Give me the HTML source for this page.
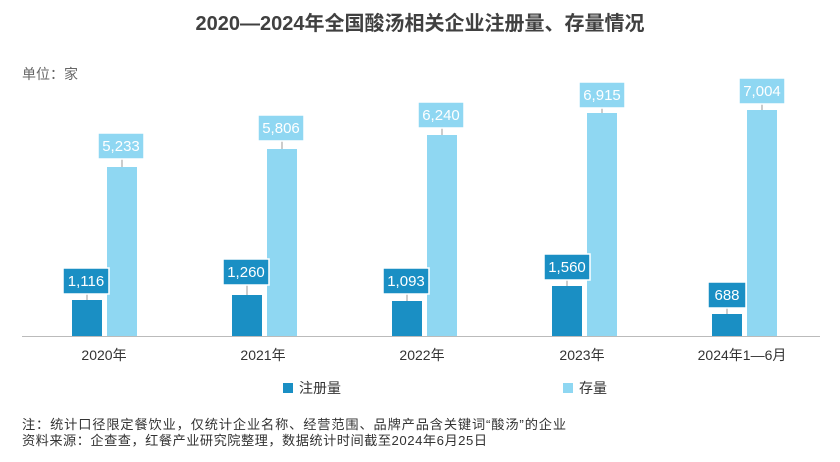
<!DOCTYPE html>
<html><head><meta charset="utf-8"><style>
body{margin:0;background:#fff;}
svg text{font-family:"Liberation Sans","Noto Sans CJK SC",sans-serif;}
</style></head><body>
<svg width="840" height="457" xmlns="http://www.w3.org/2000/svg">
<rect width="840" height="457" fill="#fff"/>
<text x="420" y="30" text-anchor="middle" font-size="20" font-weight="bold" fill="#404040">2020—2024年全国酸汤相关企业注册量、存量情况</text>
<text x="22" y="79" font-size="14" fill="#666">单位：家</text>
<line x1="22" y1="336.5" x2="820" y2="336.5" stroke="#bbb" stroke-width="1"/>
<g fill="#1a8fc4">
<rect x="72" y="300" width="30" height="36"/>
<rect x="232" y="295" width="30" height="41"/>
<rect x="392" y="301" width="30" height="35"/>
<rect x="552" y="286" width="30" height="50"/>
<rect x="712" y="314" width="30" height="22"/>
</g>
<g fill="#8fd7f2">
<rect x="107" y="167" width="30" height="169"/>
<rect x="267" y="149" width="30" height="187"/>
<rect x="427" y="135" width="30" height="201"/>
<rect x="587" y="113" width="30" height="223"/>
<rect x="747" y="110" width="30" height="226"/>
</g>
<g stroke="#999" stroke-width="1">
<line x1="87" y1="294" x2="87" y2="300"/><line x1="247" y1="285" x2="247" y2="295"/>
<line x1="407" y1="294" x2="407" y2="301"/><line x1="567" y1="280" x2="567" y2="286"/>
<line x1="727" y1="308" x2="727" y2="314"/>
<line x1="122" y1="159" x2="122" y2="167"/><line x1="282" y1="141" x2="282" y2="149"/>
<line x1="442" y1="128" x2="442" y2="135"/><line x1="602" y1="108" x2="602" y2="113"/>
<line x1="762" y1="104" x2="762" y2="110"/>
</g>
<g fill="#1a8fc4" stroke="#fff" stroke-width="1.5">
<rect x="63" y="268" width="46" height="26"/><rect x="223" y="259" width="46" height="26"/>
<rect x="383" y="268" width="46" height="26"/><rect x="544" y="254" width="46" height="26"/>
<rect x="708" y="282" width="38" height="26"/>
</g>
<g fill="#8fd7f2" stroke="#fff" stroke-width="1.5">
<rect x="98" y="133" width="46" height="26"/><rect x="258" y="115" width="46" height="26"/>
<rect x="418" y="102" width="46" height="26"/><rect x="579" y="82" width="46" height="26"/>
<rect x="739" y="78" width="46" height="26"/>
</g>
<g fill="#fff" font-size="15" text-anchor="middle">
<text x="86" y="286">1,116</text><text x="246" y="277">1,260</text>
<text x="406" y="286">1,093</text><text x="567" y="272">1,560</text>
<text x="727" y="300">688</text>
<text x="121" y="151">5,233</text><text x="281" y="133">5,806</text>
<text x="441" y="120">6,240</text><text x="602" y="100">6,915</text>
<text x="762" y="96">7,004</text>
</g>
<g fill="#333" font-size="14" text-anchor="middle">
<text x="104" y="360">2020年</text><text x="263" y="360">2021年</text>
<text x="422" y="360">2022年</text><text x="582" y="360">2023年</text>
<text x="742" y="360">2024年1—6月</text>
</g>
<rect x="283" y="383" width="10" height="10" fill="#1a8fc4"/>
<text x="299" y="393" font-size="14" fill="#333">注册量</text>
<rect x="563" y="383" width="10" height="10" fill="#8fd7f2"/>
<text x="579" y="393" font-size="14" fill="#333">存量</text>
<text x="22" y="429" font-size="13.2" fill="#333" textLength="544" lengthAdjust="spacing">注：统计口径限定餐饮业，仅统计企业名称、经营范围、品牌产品含关键词“酸汤”的企业</text>
<text x="22" y="445" font-size="13.2" fill="#333" textLength="465" lengthAdjust="spacing">资料来源：企查查，红餐产业研究院整理，数据统计时间截至2024年6月25日</text>
</svg>
</body></html>
